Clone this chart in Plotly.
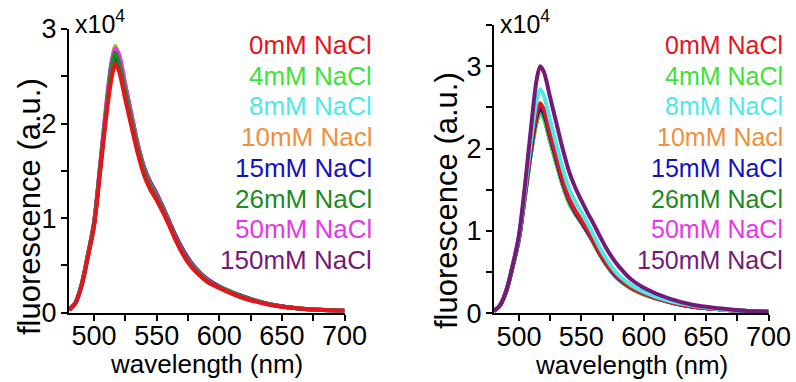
import plotly.graph_objects as go

# ---------------- data ----------------
wavelength = [480, 485, 490, 495, 500, 505, 510, 514, 517, 520, 525, 530, 535, 540, 545,
              550, 555, 560, 565, 570, 575, 580, 590, 600, 620, 640, 660, 680, 700]

labels = ["0mM NaCl", "4mM NaCl", "8mM NaCl", "10mM Nacl", "15mM NaCl",
          "26mM NaCl", "50mM NaCl", "150mM NaCl"]
colors = ["#e3161d", "#3ee23a", "#4ee8e8", "#f0903c", "#1212c4",
          "#1f8a24", "#e636e6", "#741a78"]

# left panel (x10^4)
left_0 = [0.03,0.10,0.28,0.58,0.91,1.50,2.10,2.48,2.63,2.55,2.25,1.96,1.68,1.45,1.30,1.19,1.06,0.92,0.77,0.64,0.53,0.45,0.33,0.26,0.15,0.085,0.05,0.03,0.02]
left_4 = [0.03,0.10,0.29,0.60,0.94,1.55,2.19,2.64,2.82,2.70,2.36,2.04,1.74,1.50,1.34,1.22,1.09,0.94,0.79,0.66,0.55,0.47,0.34,0.27,0.16,0.09,0.05,0.03,0.02]
left_8 = [0.03,0.10,0.29,0.60,0.94,1.55,2.17,2.59,2.74,2.66,2.34,2.03,1.74,1.49,1.33,1.21,1.08,0.94,0.79,0.66,0.55,0.47,0.34,0.27,0.16,0.09,0.05,0.03,0.02]
left_10 = [0.03,0.10,0.29,0.60,0.94,1.55,2.18,2.62,2.81,2.68,2.35,2.04,1.74,1.50,1.34,1.22,1.09,0.94,0.79,0.66,0.55,0.47,0.34,0.27,0.16,0.09,0.05,0.03,0.02]
left_15 = [0.03,0.10,0.29,0.60,0.94,1.54,2.16,2.56,2.70,2.63,2.33,2.03,1.74,1.50,1.34,1.22,1.09,0.95,0.80,0.67,0.56,0.47,0.35,0.27,0.16,0.09,0.05,0.03,0.02]
left_26 = [0.03,0.10,0.29,0.60,0.94,1.55,2.17,2.59,2.75,2.64,2.34,2.03,1.74,1.50,1.34,1.22,1.09,0.94,0.79,0.66,0.55,0.47,0.34,0.27,0.16,0.09,0.05,0.03,0.02]
left_50 = [0.03,0.10,0.29,0.61,0.96,1.59,2.24,2.66,2.79,2.73,2.41,2.08,1.77,1.52,1.36,1.24,1.10,0.95,0.80,0.67,0.56,0.48,0.35,0.27,0.16,0.09,0.05,0.03,0.02]
left_150 = [0.03,0.10,0.29,0.60,0.95,1.56,2.19,2.61,2.76,2.70,2.40,2.09,1.78,1.54,1.38,1.26,1.12,0.97,0.82,0.69,0.58,0.49,0.36,0.28,0.17,0.09,0.05,0.03,0.02]

# right panel (x10^4)
right_0 = [0.03,0.10,0.28,0.58,0.92,1.48,2.05,2.42,2.55,2.47,2.18,1.90,1.62,1.40,1.25,1.13,1.01,0.87,0.73,0.61,0.51,0.43,0.31,0.24,0.14,0.08,0.05,0.03,0.02]
right_4 = [0.03,0.10,0.28,0.57,0.90,1.44,1.98,2.31,2.43,2.36,2.09,1.82,1.56,1.35,1.21,1.10,0.98,0.85,0.71,0.59,0.49,0.41,0.30,0.23,0.14,0.08,0.05,0.03,0.02]
right_8 = [0.03,0.10,0.28,0.58,0.93,1.52,2.15,2.57,2.72,2.64,2.34,2.05,1.76,1.52,1.36,1.23,1.09,0.94,0.79,0.66,0.55,0.46,0.34,0.26,0.15,0.09,0.05,0.03,0.02]
right_10 = [0.03,0.10,0.28,0.57,0.90,1.44,1.98,2.32,2.44,2.37,2.10,1.83,1.57,1.36,1.22,1.10,0.98,0.85,0.71,0.59,0.49,0.41,0.30,0.23,0.14,0.08,0.05,0.03,0.02]
right_15 = [0.03,0.10,0.28,0.57,0.91,1.46,2.01,2.37,2.49,2.42,2.14,1.86,1.59,1.38,1.23,1.11,0.99,0.86,0.72,0.60,0.50,0.42,0.31,0.24,0.14,0.08,0.05,0.03,0.02]
right_26 = [0.03,0.10,0.28,0.57,0.90,1.44,1.99,2.32,2.44,2.37,2.09,1.82,1.56,1.35,1.21,1.10,0.98,0.85,0.71,0.59,0.49,0.41,0.30,0.23,0.14,0.08,0.05,0.03,0.02]
right_50 = [0.03,0.10,0.28,0.57,0.90,1.45,1.99,2.33,2.45,2.38,2.10,1.83,1.57,1.36,1.22,1.10,0.98,0.85,0.71,0.59,0.49,0.41,0.30,0.23,0.14,0.08,0.05,0.03,0.02]
right_150 = [0.03,0.10,0.28,0.58,0.95,1.58,2.30,2.82,3.00,2.93,2.62,2.31,2.00,1.73,1.53,1.37,1.22,1.08,0.93,0.79,0.67,0.57,0.41,0.31,0.18,0.10,0.06,0.03,0.02]

left_series = [left_0, left_4, left_8, left_10, left_15, left_26, left_50, left_150]
right_series = [right_0, right_4, right_8, right_10, right_15, right_26, right_50, right_150]

# ---------------- figure ----------------
FONT = "Liberation Sans, Arial, Helvetica, sans-serif"
W, H = 796, 382
fig = go.Figure()

for i in [7, 1, 3, 2, 4, 6, 5, 0]:
    fig.add_trace(go.Scatter(x=wavelength, y=left_series[i], mode="lines",
                             line=dict(color=colors[i], width=4, shape="spline", smoothing=0.8),
                             xaxis="x", yaxis="y", showlegend=False, hoverinfo="skip"))
for i in [6, 5, 3, 1, 4, 0, 2, 7]:
    fig.add_trace(go.Scatter(x=wavelength, y=right_series[i], mode="lines",
                             line=dict(color=colors[i], width=4, shape="spline", smoothing=0.8),
                             xaxis="x2", yaxis="y2", showlegend=False, hoverinfo="skip"))

def px_x(p):
    return p / W

def px_y(p):
    return 1 - p / H

axis_common = dict(showline=True, linewidth=2, linecolor="black", mirror=False,
                   ticks="outside", ticklen=6, tickwidth=2, tickcolor="black",
                   showgrid=False, zeroline=False, automargin=False,
                   tickfont=dict(family=FONT, size=27, color="black"))

xminor = dict(dtick=25, ticks="outside", ticklen=6, tickwidth=2, tickcolor="black", showgrid=False)
yminor = dict(dtick=0.5, ticks="outside", ticklen=6, tickwidth=2, tickcolor="black", showgrid=False)

fig.update_layout(
    width=W, height=H,
    margin=dict(l=0, r=0, t=0, b=0, pad=0, autoexpand=False),
    paper_bgcolor="white", plot_bgcolor="white",
    font=dict(family=FONT, color="black"),
    xaxis=dict(domain=[px_x(69), px_x(344.5)], range=[480, 700], dtick=50, tick0=0,
               anchor="y", minor=xminor, ticklabelstandoff=-8, **axis_common),
    yaxis=dict(domain=[px_y(312.7), px_y(29)], range=[0, 3], dtick=1, tick0=0,
               anchor="x", minor=yminor, ticklabelstandoff=-1, **axis_common),
    xaxis2=dict(domain=[px_x(494), px_x(768.5)], range=[480, 700], dtick=50, tick0=0,
                anchor="y2", minor=xminor, ticklabelstandoff=-8, **axis_common),
    yaxis2=dict(domain=[px_y(313.3), px_y(25)], range=[0, 3.5], dtick=1, tick0=0,
                anchor="x2", minor=yminor, ticklabelstandoff=-1, **axis_common),
)

annotations = []
# axis titles
for cx, cy in [(206.7, 364), (631.5, 365)]:
    annotations.append(dict(text="wavelength (nm)", x=px_x(cx), y=px_y(cy), xref="paper", yref="paper",
                            xanchor="center", yanchor="middle", showarrow=False,
                            font=dict(family=FONT, size=26, color="black")))
for cx, cy in [(29, 207), (446, 201)]:
    annotations.append(dict(text="fluorescence (a.u.)", x=px_x(cx), y=px_y(cy), xref="paper", yref="paper",
                            xanchor="center", yanchor="middle", textangle=-90, showarrow=False,
                            font=dict(family=FONT, size=31, color="black")))
# multipliers
for lx in [73, 498]:
    annotations.append(dict(text="x10<sup>4</sup>", x=px_x(lx), y=px_y(22), xref="paper", yref="paper",
                            xanchor="left", yanchor="middle", showarrow=False,
                            font=dict(family=FONT, size=25, color="black")))
# legend texts
for rx, fs in [(374, 26), (785, 25)]:
    for k, lab in enumerate(labels):
        cy = 45 + k * 30.7
        annotations.append(dict(text=lab, x=px_x(rx), y=px_y(cy), xref="paper", yref="paper",
                                xanchor="right", yanchor="middle", showarrow=False,
                                font=dict(family=FONT, size=fs, color=colors[k])))
fig.update_layout(annotations=annotations)

fig.write_html("out.html")
